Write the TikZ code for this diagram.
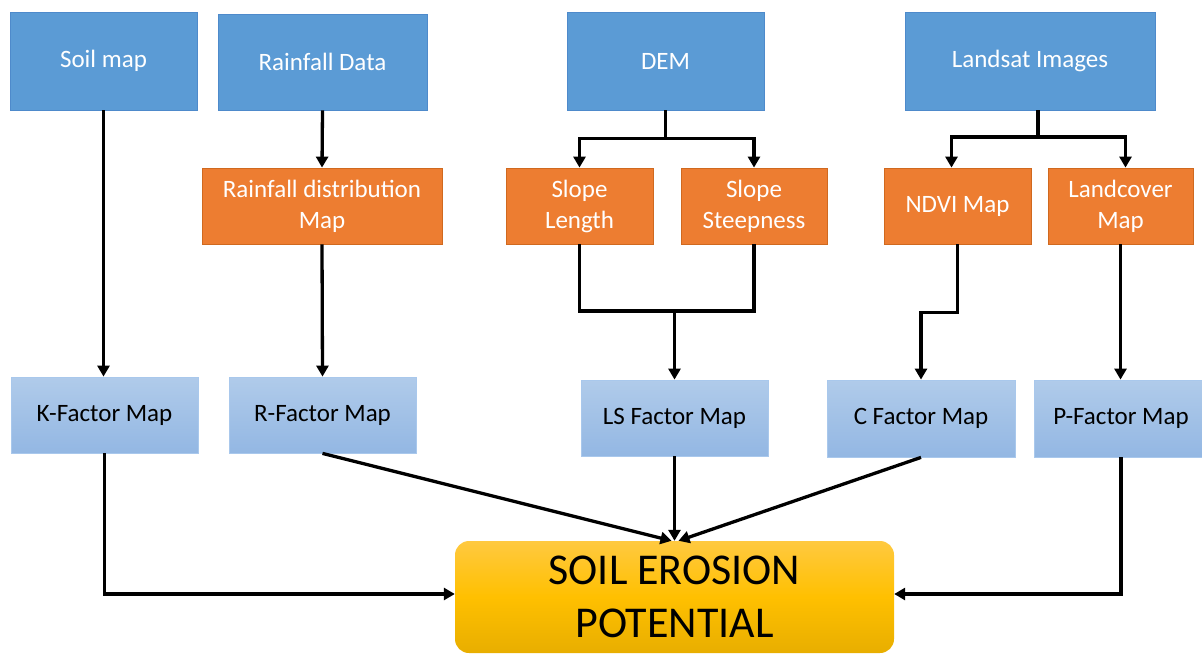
\documentclass[tikz,border=0pt]{standalone}
\usepackage{fontspec}
\setmainfont{Carlito}
\usetikzlibrary{arrows.meta,calc}
\definecolor{topblue}{HTML}{5B9BD5}
\definecolor{topblueedge}{HTML}{4E8ACB}
\definecolor{orng}{HTML}{ED7D31}
\definecolor{orngedge}{HTML}{D0691F}
\definecolor{ltop}{HTML}{B0CBEA}
\definecolor{lbot}{HTML}{93B7E3}
\definecolor{ledge}{HTML}{A9C8EC}
\definecolor{ytop}{HTML}{FFC940}
\definecolor{ymid}{HTML}{FFC000}
\definecolor{ybot}{HTML}{E8AE00}
\begin{document}
\begin{tikzpicture}[x=1pt,y=-1pt,
 box/.style={rectangle,inner sep=0pt,align=center,font=\fontsize{25}{31}\selectfont},
 srcbox/.style={box,fill=topblue,draw=topblueedge,line width=0.8pt,text=white},
 midbox/.style={box,fill=orng,draw=orngedge,line width=0.8pt,text=white},
 facbox/.style={box,top color=ltop,bottom color=lbot,draw=ledge,line width=0.8pt,text=black},
 goalbox/.style={box,rounded corners=14pt,top color=ytop,bottom color=ybot,middle color=ymid,font=\fontsize{44}{53}\selectfont,text=black},
 conn/.style={line width=3.3pt,line join=miter,-{Triangle[length=11pt,width=12pt]}},
 link/.style={line width=3.3pt,line join=miter}]
\useasboundingbox (0,0) rectangle (1202,655);
% sources
\node[srcbox,minimum width=187pt,minimum height=98pt] (soil) at (103.5,61) {Soil map};
\node[srcbox,minimum width=209pt,minimum height=96pt] (rain) at (322.5,62) {Rainfall Data};
\node[srcbox,minimum width=197pt,minimum height=98pt] (dem) at (665.5,61) {DEM};
\node[srcbox,minimum width=250pt,minimum height=98pt] (landsat) at (1030,61) {Landsat Images};
% intermediate
\node[midbox,minimum width=240pt,minimum height=76pt] (rdist) at (322,206) {Rainfall distribution\\Map};
\node[midbox,minimum width=147pt,minimum height=76pt] (slen) at (579.5,206) {Slope\\Length};
\node[midbox,minimum width=146pt,minimum height=76pt] (ssteep) at (754,206) {Slope\\Steepness};
\node[midbox,minimum width=147pt,minimum height=76pt] (ndvi) at (957.5,206) {NDVI Map};
\node[midbox,minimum width=145pt,minimum height=76pt] (landc) at (1120.5,206) {Landcover\\Map};
% factor maps
\node[facbox,minimum width=187pt,minimum height=76pt] (kf) at (104.5,415) {K-Factor Map};
\node[facbox,minimum width=187pt,minimum height=76pt] (rf) at (322.5,415) {R-Factor Map};
\node[facbox,minimum width=187pt,minimum height=76pt] (lsf) at (674.5,418) {LS Factor Map};
\node[facbox,minimum width=188pt,minimum height=77pt] (cf) at (921,418.5) {C Factor Map};
\node[facbox,minimum width=174pt,minimum height=77pt] (pf) at (1121,418.5) {P-Factor Map};
% goal
\node[goalbox,minimum width=439pt,minimum height=112pt] (goal) at (674.5,597) {SOIL EROSION\\POTENTIAL};
% connectors
\draw[conn] (soil.south) -- (soil.south |- kf.north);
\draw[conn] (rain.south) -- (rdist.north);
\draw[conn] (rdist.south) -- (rf.north);
\coordinate (demj) at ($(dem.south)+(0,28)$);
\draw[link] (dem.south) -- (demj);
\draw[conn] (demj) -| (slen.north);
\draw[conn] (demj) -| (ssteep.north);
\coordinate (lsj) at (674.5,311);
\draw[link] (slen.south) |- (lsj) -| (ssteep.south);
\draw[conn] (lsj) -- (lsf.north);
\coordinate (lj) at (1038,137);
\draw[link] (landsat.south -| lj) -- (lj);
\draw[conn] (lj) -| ([xshift=-6pt]ndvi.north);
\draw[conn] (lj) -| ([xshift=5pt]landc.north);
\draw[conn] (ndvi.south) -- ++(0,68) -| (cf.north);
\draw[conn] (landc.south) -- (landc.south |- pf.north);
\draw[conn] (kf.south) |- ([yshift=3pt]goal.west);
\draw[conn] (pf.south) |- ([yshift=3pt]goal.east);
\draw[conn] (rf.south) -- ([xshift=-3pt]goal.north);
\draw[conn] (lsf.south) -- (goal.north);
\draw[conn] (cf.south) -- ([xshift=4pt]goal.north);
\end{tikzpicture}
\end{document}
